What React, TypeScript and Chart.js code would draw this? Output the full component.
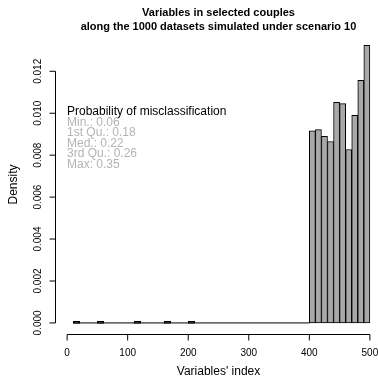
import React, { useEffect, useRef } from "react";
import { Chart, registerables } from "chart.js";

Chart.register(...registerables);

// Histogram bins (width 10) from 10 to 500: bin left edges
const binStarts: number[] = Array.from({ length: 49 }, (_, i) => 10 + i * 10);
// Non-zero densities (bin start -> density)
const lowBinStarts = [10, 50, 110, 160, 200];
const lowBinDensity = [0.00002, 0.00002, 0.00002, 0.00002, 0.00002];
const highBinStarts = [400, 410, 420, 430, 440, 450, 460, 470, 480, 490];
const highBinDensity = [0.00916, 0.00922, 0.0089, 0.00865, 0.01052, 0.01046, 0.00827, 0.0099, 0.01157, 0.01324];
const baselineRange = [10, 400];

const xTicks = [0, 100, 200, 300, 400, 500];
const yTicks = [0, 0.002, 0.004, 0.006, 0.008, 0.01, 0.012];
const yTickLabels = ["0.000", "0.002", "0.004", "0.006", "0.008", "0.010", "0.012"];

const titleLines = ["Variables in selected couples", "along the 1000 datasets simulated under scenario 10"];
const xLabel = "Variables' index";
const yLabel = "Density";
const legendTitle = "Probability of misclassification";
const legendLines = ["Min.: 0.06", "1st Qu.: 0.18", "Med.: 0.22", "3rd Qu.: 0.26", "Max: 0.35"];

const FONT = '"Liberation Sans", Arial, Helvetica, sans-serif';

export default function App() {
  const ref = useRef<HTMLCanvasElement | null>(null);
  useEffect(() => {
    if (!ref.current) return;
    const densityFor = (s: number) => {
      const hi = highBinStarts.indexOf(s);
      if (hi >= 0) return highBinDensity[hi];
      const lo = lowBinStarts.indexOf(s);
      if (lo >= 0) return lowBinDensity[lo];
      return 0;
    };
    const barData = binStarts.map((s) => ({ x: s + 5, y: densityFor(s) }));

    // R draws rect outlines even for very thin bars: outline thin bars from Chart.js elements
    const thinBars = {
      id: "thinBars",
      afterDatasetsDraw(chart: any) {
        const meta = chart.getDatasetMeta(1);
        const ctx = chart.ctx;
        ctx.save();
        ctx.strokeStyle = "#000";
        ctx.lineWidth = 1;
        meta.data.forEach((el: any, i: number) => {
          const v = barData[i].y;
          if (v > 0 && Math.abs(el.base - el.y) < 2) {
            const w = el.width;
            ctx.strokeRect(Math.round(el.x - w / 2) + 0.5, Math.round(el.y) - 1.5, Math.round(w), 1.5);
          }
        });
        ctx.restore();
      },
    };

    const rAxes = {
      id: "rAxes",
      afterDraw(chart: any) {
        const ctx = chart.ctx;
        const xs = chart.scales.x;
        const ys = chart.scales.y;
        const area = chart.chartArea;
        ctx.save();
        ctx.strokeStyle = "#000";
        ctx.fillStyle = "#000";
        ctx.lineWidth = 1;
        // x axis
        const xAxisY = Math.round(area.bottom) + 0.5;
        const x0 = xs.getPixelForValue(xTicks[0]);
        const x1 = xs.getPixelForValue(xTicks[xTicks.length - 1]);
        ctx.beginPath();
        ctx.moveTo(x0, xAxisY);
        ctx.lineTo(x1, xAxisY);
        xTicks.forEach((t) => {
          const px = xs.getPixelForValue(t);
          ctx.moveTo(px, xAxisY);
          ctx.lineTo(px, xAxisY + 6);
        });
        ctx.stroke();
        ctx.font = `10px ${FONT}`;
        ctx.textAlign = "center";
        ctx.textBaseline = "middle";
        xTicks.forEach((t) => {
          ctx.fillText(String(t), xs.getPixelForValue(t), 353);
        });
        // y axis
        const yAxisX = Math.round(area.left) + 0.5;
        const yb = ys.getPixelForValue(yTicks[0]);
        const yt = ys.getPixelForValue(yTicks[yTicks.length - 1]);
        ctx.beginPath();
        ctx.moveTo(yAxisX, yb);
        ctx.lineTo(yAxisX, yt);
        yTicks.forEach((t) => {
          const py = ys.getPixelForValue(t);
          ctx.moveTo(yAxisX, py);
          ctx.lineTo(yAxisX - 6, py);
        });
        ctx.stroke();
        yTicks.forEach((t, i) => {
          const py = ys.getPixelForValue(t);
          ctx.save();
          ctx.translate(38, py);
          ctx.rotate(-Math.PI / 2);
          ctx.fillText(yTickLabels[i], 0, 0);
          ctx.restore();
        });
        // axis titles
        ctx.font = `12px ${FONT}`;
        ctx.fillText(xLabel, (area.left + xs.getPixelForValue(520)) / 2, 372);
        ctx.save();
        ctx.translate(14, (area.top + area.bottom) / 2);
        ctx.rotate(-Math.PI / 2);
        ctx.fillText(yLabel, 0, 0);
        ctx.restore();
        // main title
        ctx.font = `bold 11px ${FONT}`;
        const cx = (area.left + xs.getPixelForValue(520)) / 2;
        ctx.fillText(titleLines[0], cx, 13);
        ctx.fillText(titleLines[1], cx, 27);
        // legend text
        ctx.font = `12px ${FONT}`;
        ctx.textAlign = "left";
        ctx.fillText(legendTitle, 67, 112);
        ctx.fillStyle = "#b4b4b4";
        legendLines.forEach((l, i) => {
          ctx.fillText(l, 67, 122.5 + i * 10.5);
        });
        ctx.restore();
      },
    };

    const chart = new Chart(ref.current, {
      type: "bar",
      data: {
        datasets: [
          {
            type: "line",
            data: baselineRange.map((x) => ({ x, y: 0 })),
            borderColor: "#000",
            borderWidth: 1,
            pointRadius: 0,
            fill: false,
            order: 0,
          } as any,
          {
            type: "bar",
            data: barData,
            backgroundColor: "#a8a8a8",
            borderColor: "#000",
            borderWidth: 1,
            borderSkipped: false,
            barPercentage: 1,
            categoryPercentage: 1,
            order: 1,
          } as any,
        ],
      },
      options: {
        animation: false,
        responsive: false,
        maintainAspectRatio: false,
        layout: { padding: { left: 55, right: 0, top: 35, bottom: 45 } },
        plugins: { legend: { display: false }, tooltip: { enabled: false }, title: { display: false } },
        scales: {
          x: { type: "linear", min: -20, max: 513.4, display: false, offset: false },
          y: { type: "linear", min: -0.000528, max: 0.01373, display: false },
        },
      },
      plugins: [thinBars, rAxes],
    });
    return () => chart.destroy();
  }, []);

  return (
    <div style={{ position: "fixed", left: 0, top: 0, width: 378, height: 379, background: "#fff" }}>
      <canvas ref={ref} width={378} height={379} style={{ width: 378, height: 379, display: "block" }} />
    </div>
  );
}
